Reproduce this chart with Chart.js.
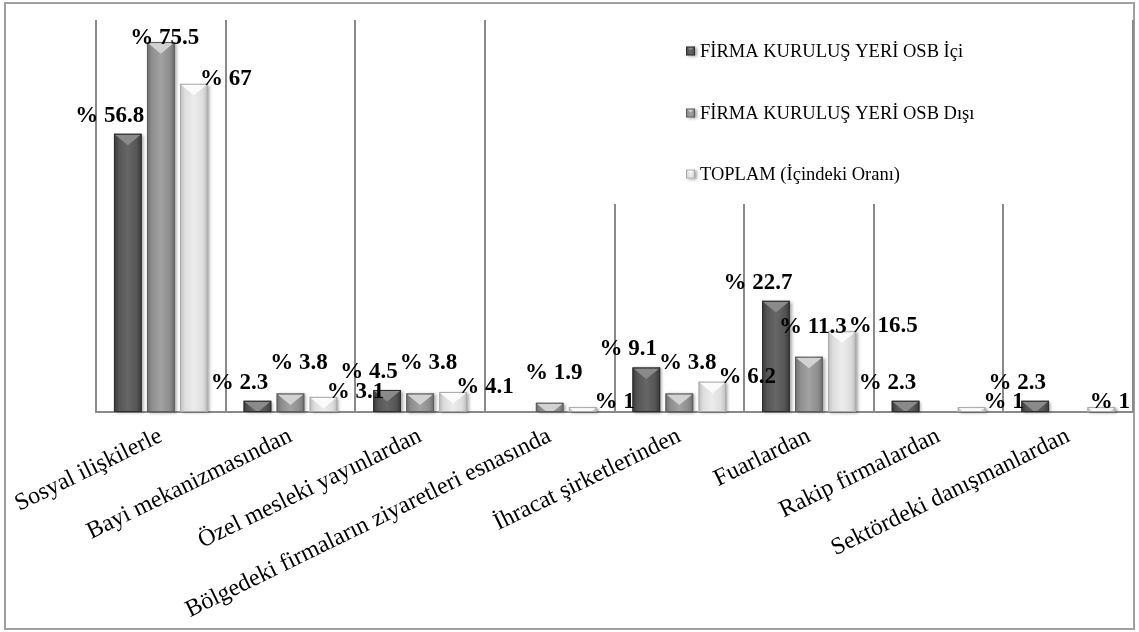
<!DOCTYPE html>
<html>
<head>
<meta charset="utf-8">
<script src="https://cdn.jsdelivr.net/npm/chart.js@4.4.0/dist/chart.umd.min.js"></script>
<style>
  html, body { margin: 0; padding: 0; background: #fff; }
  canvas { display: block; }
</style>
</head>
<body>
<canvas id="chart" width="1139" height="632"></canvas>
<script>
// data
const categories = [
  'Sosyal ilişkilerle',
  'Bayi mekanizmasından',
  'Özel mesleki yayınlardan',
  'Bölgedeki firmaların ziyaretleri esnasında',
  'İhracat şirketlerinden',
  'Fuarlardan',
  'Rakip firmalardan',
  'Sektördeki danışmanlardan'
];
const seriesNames = ['FİRMA KURULUŞ YERİ OSB İçi', 'FİRMA KURULUŞ YERİ OSB Dışı', 'TOPLAM (İçindeki Oranı)'];
const osbInside = [56.8, 2.3, 4.5, 0, 9.1, 22.7, 2.3, 2.3];
const osbOutside = [75.5, 3.8, 3.8, 1.9, 3.8, 11.3, 0, 0];
const total = [67, 3.1, 4.1, 1, 6.2, 16.5, 1, 1];

// bar looks, one per series
const barStyles = [
  { edge: '#383838', body: '#555555', mid: '#666666', tip: '#8a8a8a', line: '#2e2e2e' },
  { edge: '#6e6e6e', body: '#8e8e8e', mid: '#a2a2a2', tip: '#d2d2d2', line: '#5c5c5c' },
  { edge: '#bdbdbd', body: '#dedede', mid: '#ececec', tip: '#fbfbfb', line: '#a8a8a8' }
];
// where each series puts its value label, relative to the bar top
const labelOffsets = [ { dx: -18, dy: -18 }, { dx: 4, dy: -30 }, { dx: 32, dy: -5 } ];

const gridGrey = '#8a8a8a';
const serif = '"Liberation Serif", "Times New Roman", serif';

function drawBevelBar(ctx, x, top, base, w, st) {
  const l = x - w / 2, r = x + w / 2, h = base - top;
  if (h <= 0.5) return;
  ctx.save();
  ctx.shadowColor = 'rgba(0,0,0,0.35)';
  ctx.shadowBlur = 3;
  ctx.shadowOffsetX = 2;
  ctx.shadowOffsetY = 1;
  const g = ctx.createLinearGradient(l, 0, r, 0);
  g.addColorStop(0, st.edge);
  g.addColorStop(0.18, st.body);
  g.addColorStop(0.5, st.mid);
  g.addColorStop(0.82, st.body);
  g.addColorStop(1, st.edge);
  ctx.fillStyle = g;
  ctx.fillRect(l, top, w, h);
  ctx.restore();

  ctx.save();
  ctx.beginPath();
  ctx.rect(l, top, w, h);
  ctx.clip();
  ctx.fillStyle = st.tip;
  ctx.beginPath();
  ctx.moveTo(l + 1, top + 1);
  ctx.lineTo(r - 1, top + 1);
  ctx.lineTo(x, top + w * 0.42);
  ctx.closePath();
  ctx.fill();
  ctx.strokeStyle = st.line;
  ctx.lineWidth = 1;
  ctx.strokeRect(l + 0.5, top + 0.5, w - 1, h - 1);
  ctx.restore();
}

const frameAndBars = {
  id: 'frameAndBars',
  beforeDraw(chart) {
    const ctx = chart.ctx;
    ctx.save();
    ctx.fillStyle = '#fff';
    ctx.fillRect(0, 0, chart.width, chart.height);
    ctx.strokeStyle = '#a0a0a0';
    ctx.lineWidth = 2;
    ctx.strokeRect(5, 3, chart.width - 10, chart.height - 6);
    ctx.restore();
  },
  beforeDatasetsDraw(chart) {
    // legend panel hides the grid lines behind it
    const ctx = chart.ctx, a = chart.chartArea;
    ctx.save();
    ctx.fillStyle = '#fff';
    ctx.fillRect(490, a.top - 1, a.right - 490 - 2, 185);
    ctx.restore();
  },
  afterDatasetsDraw(chart) {
    const ctx = chart.ctx, a = chart.chartArea;
    chart.data.datasets.forEach((ds, i) => {
      const meta = chart.getDatasetMeta(i);
      meta.data.forEach((bar, j) => {
        if (!ds.data[j]) return;
        const p = bar.getProps(['x', 'y', 'base', 'width'], true);
        drawBevelBar(ctx, p.x, p.y, p.base, p.width, barStyles[i]);
      });
    });
    // value labels, nudged right when they would overlap a neighbour
    ctx.save();
    ctx.font = 'bold 23px ' + serif;
    ctx.fillStyle = '#000';
    ctx.textAlign = 'center';
    ctx.textBaseline = 'middle';
    const placed = categories.map(() => []);
    chart.data.datasets.forEach((ds, i) => {
      const meta = chart.getDatasetMeta(i);
      meta.data.forEach((bar, j) => {
        const v = ds.data[j];
        if (!v) return;
        const p = bar.getProps(['x', 'y'], true);
        const off = labelOffsets[i];
        const txt = '% ' + v;
        const half = ctx.measureText(txt).width / 2;
        let x = p.x + off.dx;
        const y = Math.max(p.y + off.dy, a.top + 18);
        placed[j].forEach(b => {
          if (Math.abs(b.y - y) < 20 && x - half < b.r + 2 && x + half > b.l) {
            x = b.r + 2 + half;
          }
        });
        x = Math.min(x, a.right - half - 3);
        placed[j].push({ l: x - half, r: x + half, y });
        ctx.fillText(txt, x, y);
      });
    });
    ctx.restore();
  },
  afterDraw(chart) {
    const ctx = chart.ctx;
    const rows = [51, 113, 174];
    ctx.save();
    ctx.font = '18.5px ' + serif;
    ctx.fillStyle = '#000';
    ctx.textAlign = 'left';
    ctx.textBaseline = 'middle';
    seriesNames.forEach((name, i) => {
      drawBevelBar(ctx, 690.5, rows[i] - 4.5, rows[i] + 4.5, 9, barStyles[i]);
      ctx.fillText(name, 700, rows[i] + 1);
    });
    ctx.restore();
  }
};

new Chart(document.getElementById('chart'), {
  type: 'bar',
  data: {
    labels: categories,
    datasets: [
      { label: seriesNames[0], data: osbInside, backgroundColor: barStyles[0].body },
      { label: seriesNames[1], data: osbOutside, backgroundColor: barStyles[1].body },
      { label: seriesNames[2], data: total, backgroundColor: barStyles[2].body }
    ]
  },
  options: {
    responsive: false,
    animation: false,
    devicePixelRatio: 1,
    layout: { padding: { left: 96, right: 6, top: 20, bottom: 0 } },
    datasets: { bar: { categoryPercentage: 0.764, barPercentage: 0.84 } },
    plugins: {
      legend: { display: false },
      tooltip: { enabled: false }
    },
    scales: {
      x: {
        grid: { offset: true, color: gridGrey, lineWidth: 2, drawTicks: false },
        border: { color: gridGrey, width: 2 },
        ticks: {
          autoSkip: false,
          maxRotation: 26,
          minRotation: 26,
          padding: 10,
          color: '#000',
          font: { family: serif, size: 24 }
        },
        afterFit(scale) { scale.height = 220; }
      },
      y: {
        display: false,
        min: 0,
        max: 80
      }
    }
  },
  plugins: [frameAndBars]
});
</script>
</body>
</html>
